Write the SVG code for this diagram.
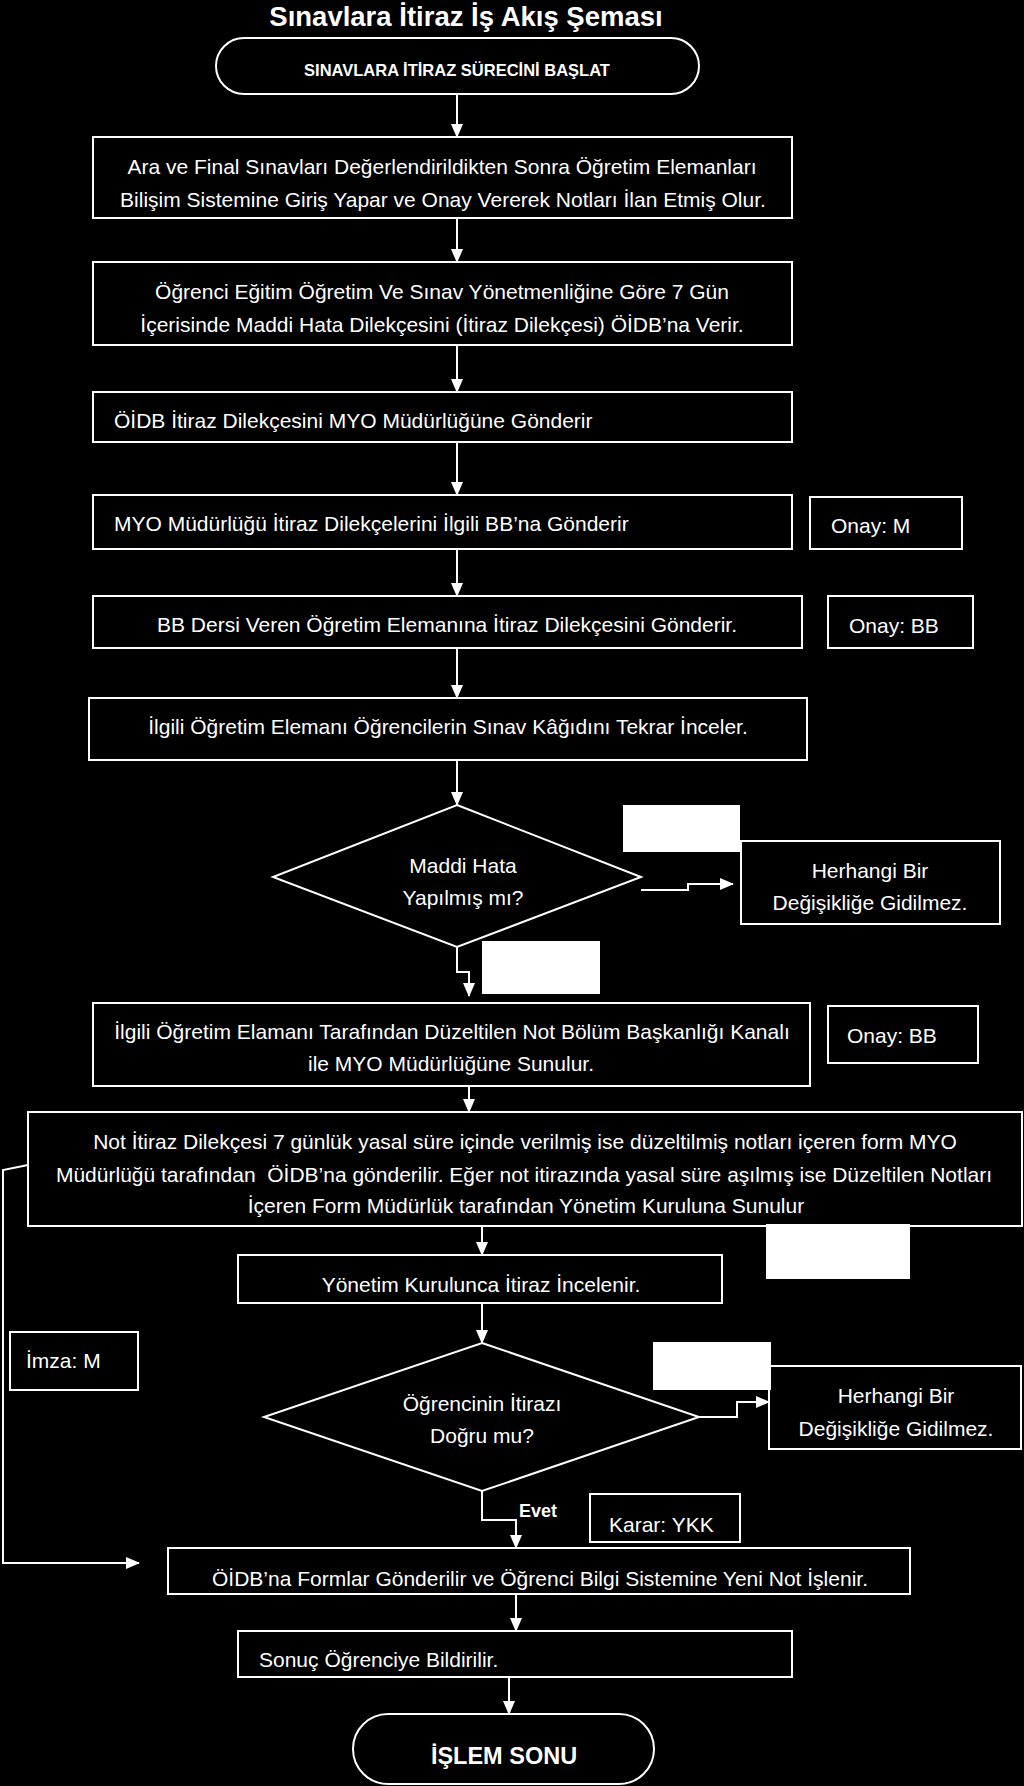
<svg xmlns="http://www.w3.org/2000/svg" width="1024" height="1786" viewBox="0 0 1024 1786">
<defs>
<style>
.bg{fill:#000}
.box{fill:#000;stroke:#fff;stroke-width:2}
.wl{fill:#fff;stroke:none}
.t{font-family:"Liberation Sans",Arial,sans-serif;font-size:21px;fill:#fff}
.c{text-anchor:middle}
.b{font-weight:bold}
.ln{fill:none;stroke:#fff;stroke-width:2}
</style>
<marker id="ah" viewBox="0 0 14 12" refX="13" refY="6" markerWidth="14" markerHeight="12" markerUnits="userSpaceOnUse" orient="auto">
<path d="M0,0 L14,6 L0,12 z" fill="#fff"/>
</marker>
</defs>
<rect class="bg" x="0" y="0" width="1024" height="1786"/>
<text class="t b c" x="466" y="26" style="font-size:27.5px">Sınavlara İtiraz İş Akış Şeması</text>

<g id="connectors">
<path class="ln" marker-end="url(#ah)" d="M457,94 V137"/>
<path class="ln" marker-end="url(#ah)" d="M457,218 V262"/>
<path class="ln" marker-end="url(#ah)" d="M457,345 V392"/>
<path class="ln" marker-end="url(#ah)" d="M457,442 V495"/>
<path class="ln" marker-end="url(#ah)" d="M457,549 V596"/>
<path class="ln" marker-end="url(#ah)" d="M457,648 V698"/>
<path class="ln" marker-end="url(#ah)" d="M457,760 V805"/>
<path class="ln" marker-end="url(#ah)" d="M641,890 H688 V884 H733"/>
<path class="ln" marker-end="url(#ah)" d="M457,947 V972 H469 V996"/>
<path class="ln" marker-end="url(#ah)" d="M469,1086 V1112"/>
<path class="ln" marker-end="url(#ah)" d="M482,1226 V1255"/>
<path class="ln" marker-end="url(#ah)" d="M482,1303 V1343"/>
<path class="ln" marker-end="url(#ah)" d="M699,1417 H737 V1402 H769"/>
<path class="ln" marker-end="url(#ah)" d="M482,1491 V1520 H516 V1548"/>
<path class="ln" marker-end="url(#ah)" d="M28,1165 L3,1170 V1563 H139"/>
<path class="ln" marker-end="url(#ah)" d="M516,1594 V1631"/>
<path class="ln" marker-end="url(#ah)" d="M509,1677 V1714"/>
</g>

<g id="start">
<rect class="box" x="216" y="38" width="483" height="56" rx="28"/>
<text class="t b c" x="457" y="76" style="font-size:16.5px">SINAVLARA İTİRAZ SÜRECİNİ BAŞLAT</text>
</g>
<g id="n1">
<rect class="box" x="93" y="137" width="699" height="81"/>
<text class="t c" x="442" y="174">Ara ve Final Sınavları Değerlendirildikten Sonra Öğretim Elemanları</text>
<text class="t c" x="443" y="207">Bilişim Sistemine Giriş Yapar ve Onay Vererek Notları İlan Etmiş Olur.</text>
</g>
<g id="n2">
<rect class="box" x="93" y="262" width="699" height="83"/>
<text class="t c" x="442" y="299">Öğrenci Eğitim Öğretim Ve Sınav Yönetmenliğine Göre 7 Gün</text>
<text class="t c" x="442" y="332">İçerisinde Maddi Hata Dilekçesini (İtiraz Dilekçesi) ÖİDB’na Verir.</text>
</g>
<g id="n3">
<rect class="box" x="93" y="392" width="699" height="50"/>
<text class="t" x="114" y="428">ÖİDB İtiraz Dilekçesini MYO Müdürlüğüne Gönderir</text>
</g>
<g id="n4">
<rect class="box" x="93" y="495" width="699" height="54"/>
<text class="t" x="114" y="531">MYO Müdürlüğü İtiraz Dilekçelerini İlgili BB’na Gönderir</text>
</g>
<g id="onay-m">
<rect class="box" x="810" y="497" width="152" height="52"/>
<text class="t" x="831" y="533">Onay: M</text>
</g>
<g id="n5">
<rect class="box" x="93" y="596" width="709" height="52"/>
<text class="t c" x="447" y="632">BB Dersi Veren Öğretim Elemanına İtiraz Dilekçesini Gönderir.</text>
</g>
<g id="onay-bb1">
<rect class="box" x="828" y="596" width="145" height="52"/>
<text class="t" x="849" y="633">Onay: BB</text>
</g>
<g id="n6">
<rect class="box" x="89" y="698" width="718" height="62"/>
<text class="t c" x="448" y="734">İlgili Öğretim Elemanı Öğrencilerin Sınav Kâğıdını Tekrar İnceler.</text>
</g>
<g id="d1">
<polygon class="box" points="457,805 641,877 457,947 273,877"/>
<text class="t c" x="463" y="873">Maddi Hata</text>
<text class="t c" x="463" y="905">Yapılmış mı?</text>
</g>
<g id="label-w1"><rect class="wl" x="623" y="805" width="117" height="47"/></g>
<g id="no-change-1">
<rect class="box" x="741" y="841" width="259" height="83"/>
<text class="t c" x="870" y="878">Herhangi Bir</text>
<text class="t c" x="870" y="910">Değişikliğe Gidilmez.</text>
</g>
<g id="label-w2"><rect class="wl" x="482" y="941" width="118" height="53"/></g>
<g id="n8">
<rect class="box" x="93" y="1003" width="717" height="83"/>
<text class="t c" x="452" y="1039">İlgili Öğretim Elamanı Tarafından Düzeltilen Not Bölüm Başkanlığı Kanalı</text>
<text class="t c" x="451" y="1071">ile MYO Müdürlüğüne Sunulur.</text>
</g>
<g id="onay-bb2">
<rect class="box" x="828" y="1006" width="150" height="57"/>
<text class="t" x="847" y="1043">Onay: BB</text>
</g>
<g id="n9">
<rect class="box" x="28" y="1112" width="994" height="114"/>
<text class="t c" x="525" y="1149">Not İtiraz Dilekçesi 7 günlük yasal süre içinde verilmiş ise düzeltilmiş notları içeren form MYO</text>
<text class="t c" x="524" y="1182" style="white-space:pre">Müdürlüğü tarafından  ÖİDB’na gönderilir. Eğer not itirazında yasal süre aşılmış ise Düzeltilen Notları</text>
<text class="t c" x="526" y="1213">İçeren Form Müdürlük tarafından Yönetim Kuruluna Sunulur</text>
</g>
<g id="label-w3"><rect class="wl" x="766" y="1224" width="144" height="55"/></g>
<g id="n10">
<rect class="box" x="238" y="1255" width="484" height="48"/>
<text class="t c" x="481" y="1292">Yönetim Kurulunca İtiraz İncelenir.</text>
</g>
<g id="imza">
<rect class="box" x="10" y="1332" width="128" height="58"/>
<text class="t" x="26" y="1368">İmza: M</text>
</g>
<g id="d2">
<polygon class="box" points="482,1343 699,1417 482,1491 264,1417"/>
<text class="t c" x="482" y="1411">Öğrencinin İtirazı</text>
<text class="t c" x="482" y="1443">Doğru mu?</text>
</g>
<g id="no-change-2">
<rect class="box" x="769" y="1366" width="252" height="83"/>
<text class="t c" x="896" y="1403">Herhangi Bir</text>
<text class="t c" x="896" y="1436">Değişikliğe Gidilmez.</text>
</g>
<g id="label-w4"><rect class="wl" x="653" y="1342" width="118" height="48"/></g>
<g id="evet"><text class="t b" x="519" y="1517" style="font-size:18px">Evet</text></g>
<g id="karar">
<rect class="box" x="590" y="1494" width="150" height="48"/>
<text class="t" x="609" y="1532">Karar: YKK</text>
</g>
<g id="n11">
<rect class="box" x="168" y="1548" width="742" height="46"/>
<text class="t c" x="540" y="1586">ÖİDB’na Formlar Gönderilir ve Öğrenci Bilgi Sistemine Yeni Not İşlenir.</text>
</g>
<g id="n12">
<rect class="box" x="238" y="1631" width="554" height="46"/>
<text class="t" x="259" y="1667">Sonuç Öğrenciye Bildirilir.</text>
</g>
<g id="end">
<rect class="box" x="353" y="1714" width="301" height="70" rx="35"/>
<text class="t b c" x="504" y="1764" style="font-size:23.5px">İŞLEM SONU</text>
</g>
</svg>
